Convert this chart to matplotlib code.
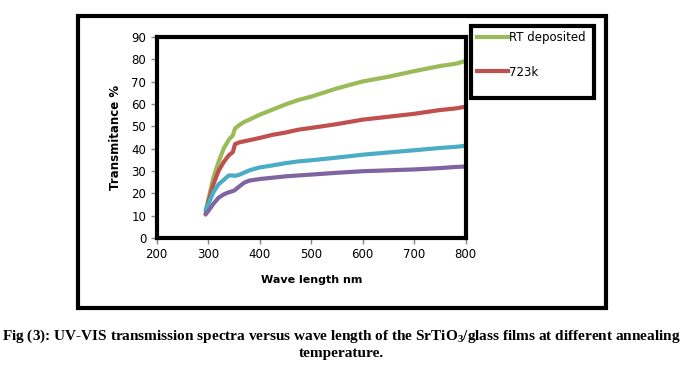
import matplotlib
matplotlib.use("Agg")
import matplotlib.pyplot as plt
from matplotlib.patches import Rectangle
from matplotlib.lines import Line2D

# wavelength (nm) and transmittance (%)
wavelength = [295, 300, 310, 320, 330, 340, 348, 352, 360, 370, 380, 400,
              425, 450, 475, 500, 550, 600, 650, 700, 750, 780, 800]
rt_deposited = [12, 17, 27, 34, 40, 44, 46, 49, 50.5, 52, 53, 55.2,
                57.5, 59.8, 61.8, 63.3, 67, 70.1, 72.2, 74.7, 77, 78, 79.3]
t_723k = [10.5, 16, 24, 30, 34, 37, 38.5, 42, 42.8, 43.3, 43.8, 44.8,
          46.2, 47.2, 48.5, 49.3, 51, 53, 54.3, 55.6, 57.3, 58, 58.8]
series_3 = [12.5, 15, 20.5, 24, 26, 28, 28, 27.8, 28.3, 29.3, 30.3, 31.6,
            32.5, 33.5, 34.3, 34.8, 36, 37.3, 38.3, 39.3, 40.3, 40.8, 41.3]
series_4 = [10.8, 12, 15.3, 18, 19.5, 20.5, 21, 21.5, 23, 24.8, 25.7, 26.4,
            27, 27.6, 28, 28.4, 29.2, 29.9, 30.3, 30.7, 31.3, 31.8, 32]

legend_labels = ["RT deposited", "723k"]
colors = ["#9BBB59", "#C0504D", "#4BACC6", "#8064A2"]

plt.rcParams['mathtext.fontset'] = 'custom'
plt.rcParams['mathtext.bf'] = 'Liberation Serif:bold'
plt.rcParams['mathtext.rm'] = 'Liberation Serif:bold'

fig = plt.figure(figsize=(6.92, 3.68), dpi=100)
W, H = 692, 368

# outer chart border
fig.add_artist(Rectangle((77.5 / W, 1 - 308 / H), (606 - 77.5) / W, (308 - 16) / H,
                         transform=fig.transFigure, fill=False, ec='black', lw=3))

ax = fig.add_axes([156.7 / W, 1 - 238 / H, 309 / W, 201 / H])
for vals, c in zip([rt_deposited, t_723k, series_3, series_4], colors):
    ax.plot(wavelength, vals, color=c, lw=3, solid_capstyle='round')

ax.set_xlim(200, 800)
ax.set_ylim(0, 90)
ax.set_xticks(range(200, 801, 100))
ax.set_yticks(range(0, 91, 10))
for s in ax.spines.values():
    s.set_linewidth(3)
    s.set_color('black')
ax.tick_params(labelsize=8.5, colors='#888888', length=4, width=1, labelcolor='black')
ax.set_xlabel("Wave length nm", fontsize=8, fontweight='bold', labelpad=10)
ax.set_ylabel("Transmitance %", fontsize=8.5, fontweight='bold', labelpad=7)

# legend (only two entries visible)
fig.add_artist(Rectangle((471 / W, 1 - 98 / H), 123 / W, 72 / H,
                         transform=fig.transFigure, fill=True, fc='white',
                         ec='black', lw=3, zorder=5))
handles = [Line2D([0], [0], color=colors[0], lw=3),
           Line2D([0], [0], color=colors[1], lw=3)]
fig.legend(handles, legend_labels, loc='upper left',
           bbox_to_anchor=(469 / W, 1 - 23 / H), frameon=False,
           fontsize=8.5, handlelength=2.6, handletextpad=0.1,
           labelspacing=1.8, borderpad=0.2).set_zorder(6)

fig.text(341 / W, 1 - 336 / H,
         r"Fig (3): UV-VIS transmission spectra versus wave length of the SrTiO$_\mathbf{3}$/glass films at different annealing",
         ha='center', va='center', fontsize=11, fontweight='bold',
         family='Liberation Serif')
fig.text(341 / W, 1 - 353 / H, "temperature.", ha='center', va='center',
         fontsize=11, fontweight='bold', family='Liberation Serif')

fig.savefig("out.png", dpi=100)
